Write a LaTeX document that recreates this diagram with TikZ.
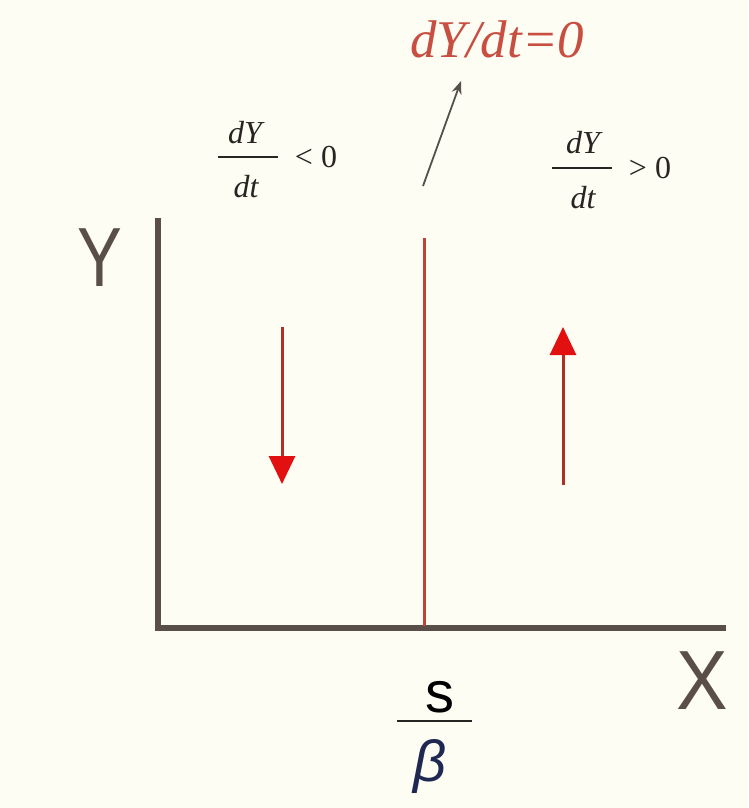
\documentclass[tikz,border=0pt]{standalone}
\usepackage{fontspec}
\setmainfont{Liberation Serif}
\setsansfont{Liberation Sans}
\usetikzlibrary{arrows.meta}
\definecolor{bg}{RGB}{253,253,243}
\definecolor{axiscol}{RGB}{90,78,72}
\definecolor{redline}{RGB}{196,64,52}
\definecolor{shaft}{RGB}{176,48,40}
\definecolor{headred}{RGB}{226,16,16}
\definecolor{labelred}{RGB}{200,78,66}
\definecolor{pointer}{RGB}{85,80,75}
\definecolor{navy}{RGB}{30,40,80}
\definecolor{ink}{RGB}{40,36,34}
\begin{document}
\begin{tikzpicture}[x=1pt,y=-1pt,
  axisline/.style={draw=axiscol,line width=6pt},
  eqline/.style={draw=redline,line width=3pt},
  flowarrow/.style={draw=shaft,line width=3pt,-{Triangle[length=28pt,width=26pt,color=headred,fill=headred]}},
  pointarrow/.style={draw=pointer,line width=1.8pt,-{Stealth[length=13pt,width=10pt]}},
  fracbar/.style={draw=ink,line width=2.5pt},
  frac/.style={inner sep=0pt,text=ink,font=\fontsize{32}{38}\selectfont},
  axlabel/.style={inner sep=0pt,text=axiscol,font=\sffamily\fontsize{84}{90}\selectfont},
]
\fill[bg] (0,0) rectangle (748,808);
\useasboundingbox (0,0) rectangle (748,808);

% axes
\coordinate (ytop) at (158,218);
\coordinate (origin) at (158,628);
\coordinate (xend) at (726,628);
\draw[axisline] (ytop) -- (origin|-xend) -- (xend);
\draw[axisline] (155,628) -- (origin);

% axis labels
\node[axlabel] (ylab) at (100,258) {\scalebox{0.8}[1]{Y}};
\node[axlabel] (xlab) at (702,681) {\scalebox{0.92}[1]{X}};

% equilibrium line
\coordinate (eqtop) at (424,238);
\coordinate (eqbot) at (424,626);
\draw[eqline] (eqtop) -- (eqbot);

% s / beta label
\node[inner sep=0pt,font=\sffamily\fontsize{58}{64}\selectfont,text=black] (snum) at (440,697) {s};
\draw[fracbar] (397,721) -- (472,721);
\node[inner sep=0pt,font=\sffamily\itshape\fontsize{58}{64}\selectfont,text=navy] (beta) at (430,766) {β};

% flow arrows
\coordinate (dtop) at (282,327);
\coordinate (dbot) at (282,484);
\draw[flowarrow] (dtop) -- (dbot);
\coordinate (ubot) at (563,485);
\coordinate (utop) at (563,327);
\draw[flowarrow] (ubot) -- (utop);

% dY/dt = 0 label and pointer
\node[inner sep=0pt,anchor=base west,text=labelred,font=\itshape\fontsize{53}{60}\selectfont] (eqlab) at (410,58) {dY/dt=0};
\coordinate (ptail) at (423,186);
\coordinate (ptip) at (461,81);
\draw[pointarrow] (ptail) -- (ptip);

% left fraction
\node[frac,anchor=base] (lnum) at (245,143) {\itshape dY};
\draw[fracbar] (218,157) -- (278,157);
\node[frac,anchor=base] (lden) at (246,197) {\itshape dt};
\node[frac,anchor=base] (lrel) at (316,167) {< 0};

% right fraction
\node[frac,anchor=base] (rnum) at (583,153) {\itshape dY};
\draw[fracbar] (552,168) -- (612,168);
\node[frac,anchor=base] (rden) at (583,208) {\itshape dt};
\node[frac,anchor=base] (rrel) at (650,178) {> 0};
\end{tikzpicture}
\end{document}
